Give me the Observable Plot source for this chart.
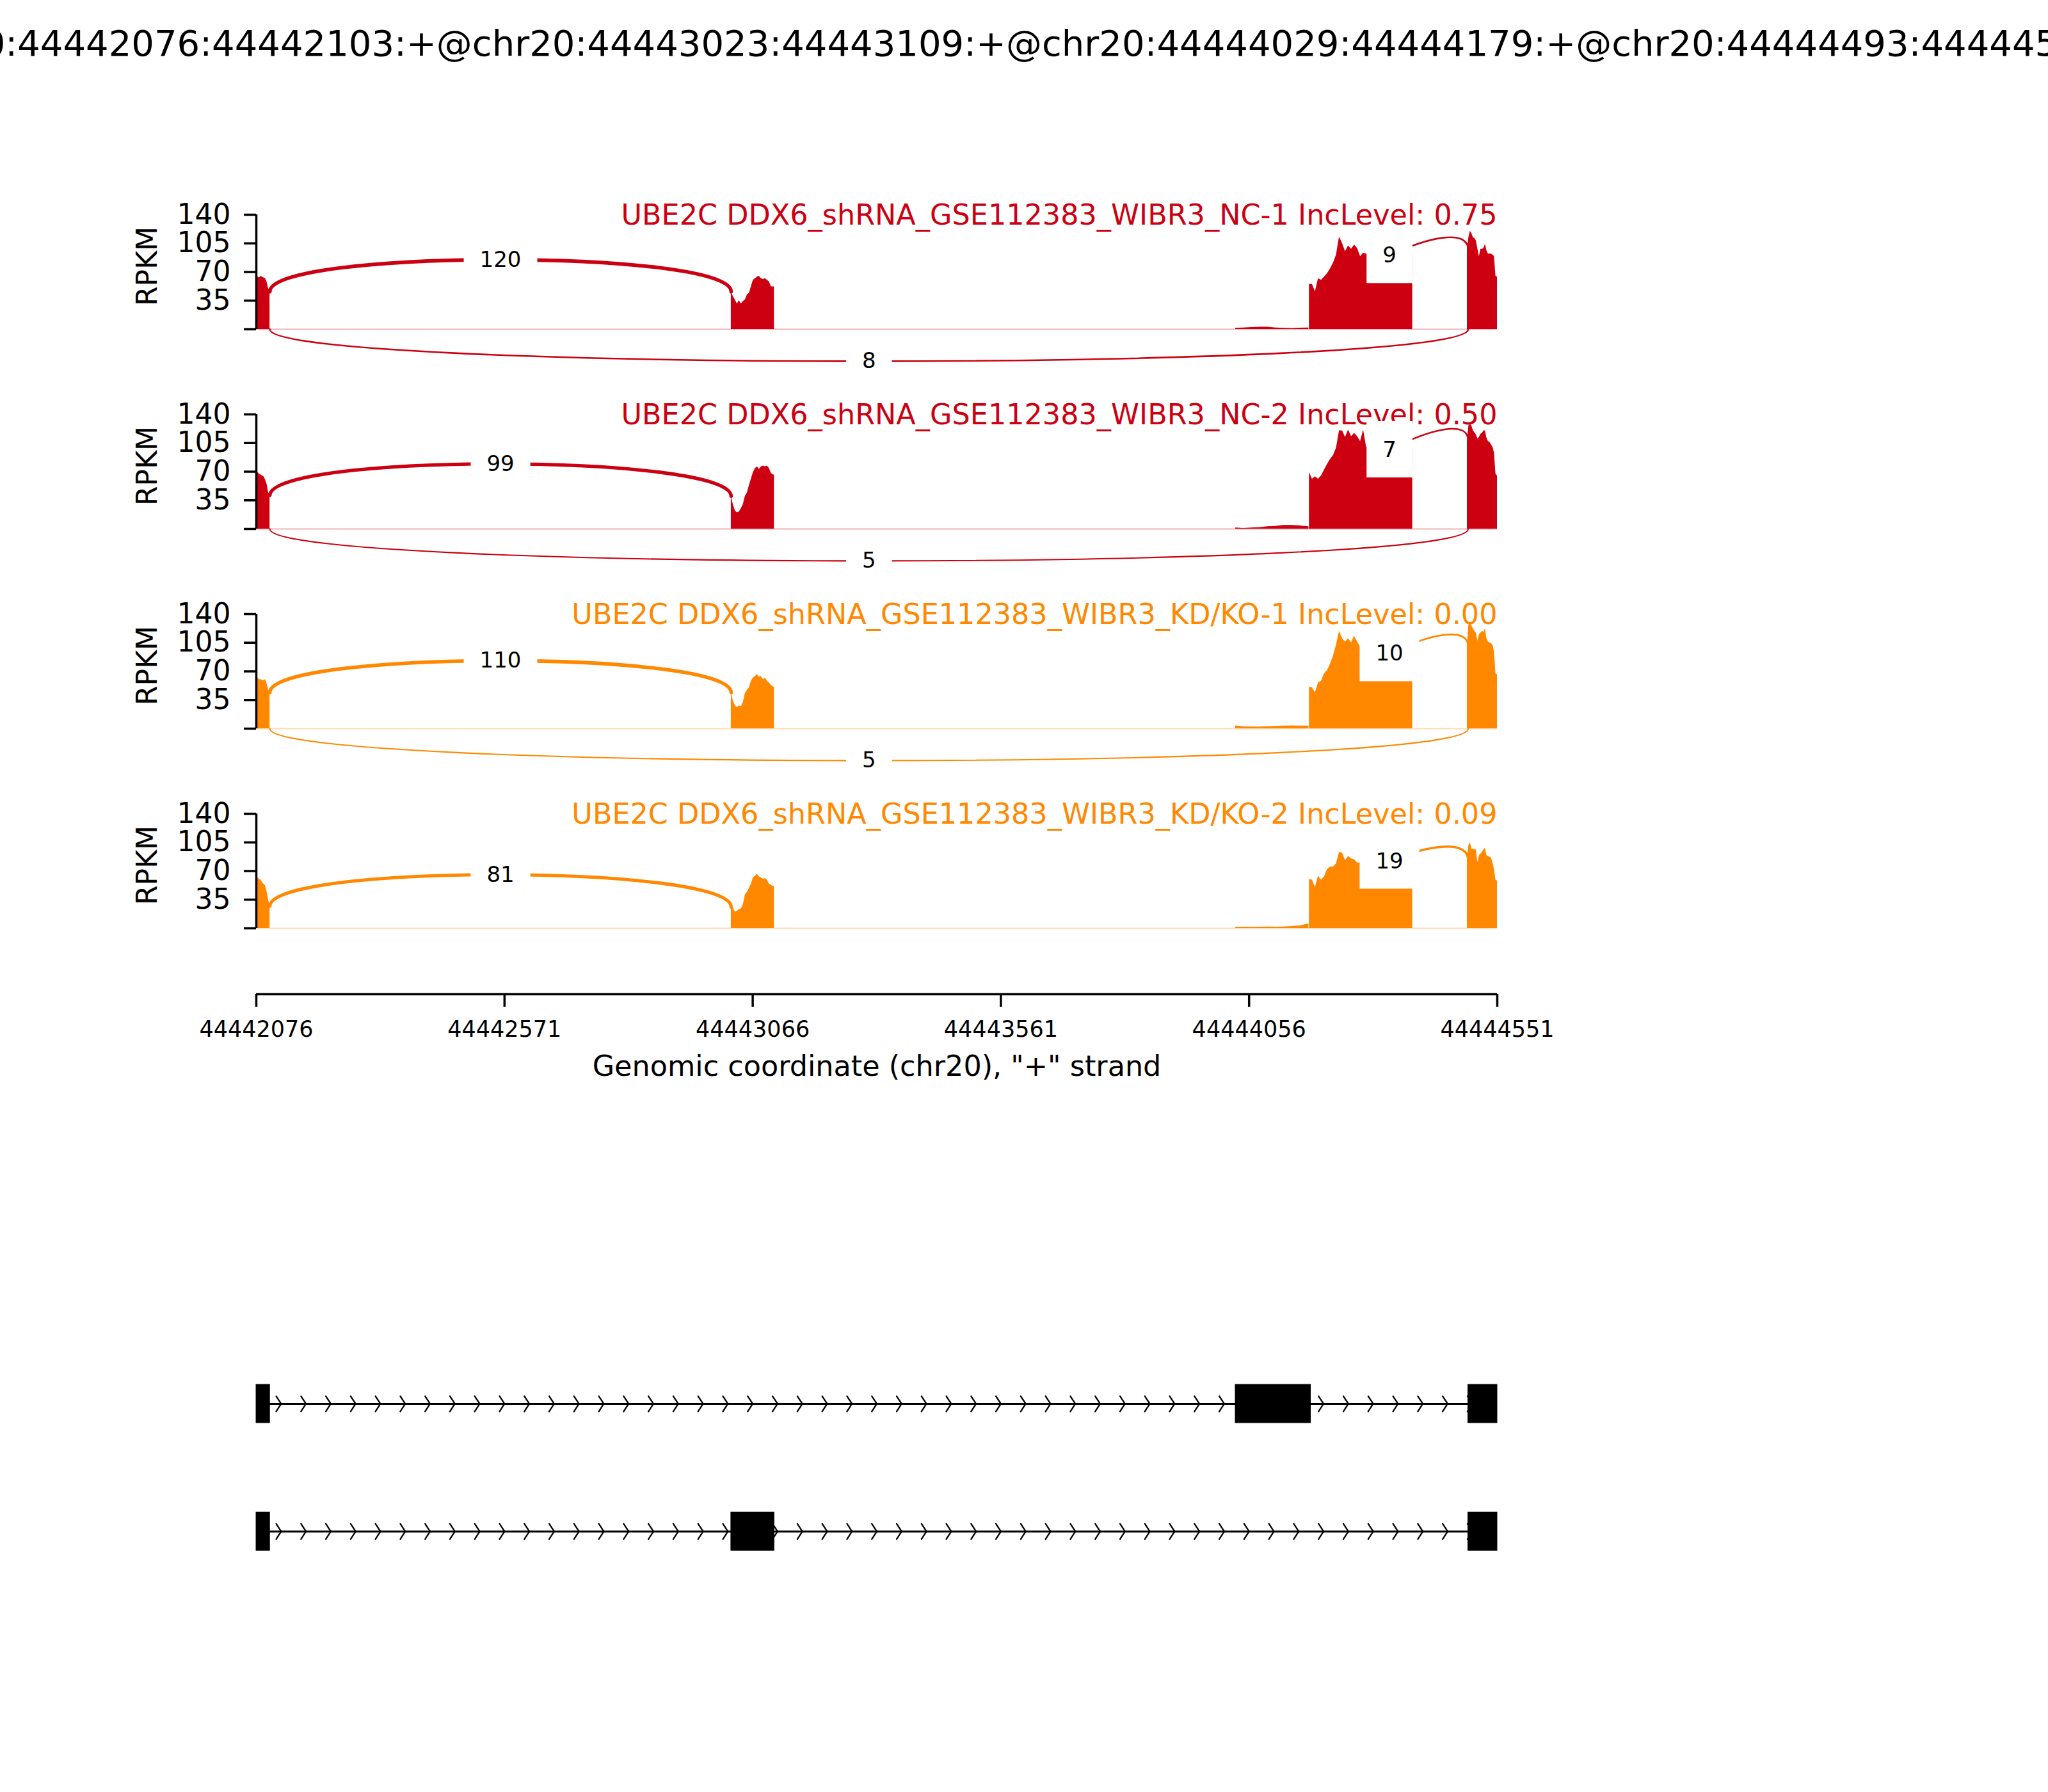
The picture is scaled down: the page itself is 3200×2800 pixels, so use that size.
<!DOCTYPE html>
<html>
<head>
<meta charset="utf-8">
<script src="https://cdn.jsdelivr.net/npm/d3@7"></script>
<script src="https://cdn.jsdelivr.net/npm/@observablehq/plot@0.6"></script>
<style>
  html, body { margin: 0; padding: 0; background: #fff; }
  #fig { position: relative; width: 3200px; height: 2800px; overflow: hidden; background: #fff; font-family: "DejaVu Sans", sans-serif; }
  #fig > svg { position: absolute; left: 0; overflow: visible; }
  #ttl { position: absolute; left: 1600px; transform: translateX(-50%); white-space: nowrap; font-size: 56px; line-height: 56px; font-family: "DejaVu Sans", sans-serif; color: #000; }
</style>
</head>
<body>
<div id="fig"></div>
<script>
// ---------------- DATA ----------------
const chrom = "chr20";
const txStart = 44442076;
const txEnd = 44444551;
// exons of the event: [start, end]
const exonStarts = [44442076, 44443023, 44444029, 44444493];
const exonEnds   = [44442103, 44443109, 44444179, 44444551];
// isoforms (indices into the exon lists), top to bottom
const isoformExons = [[0, 2, 3], [0, 1, 3]];

const xTicks = [44442076, 44442571, 44443066, 44443561, 44444056, 44444551];
const yTicks = [0, 35, 70, 105, 140];
const xLabel = 'Genomic coordinate (chr20), "+" strand';
const yLabel = "RPKM";

const sampleNames = [
  "UBE2C DDX6_shRNA_GSE112383_WIBR3_NC-1",
  "UBE2C DDX6_shRNA_GSE112383_WIBR3_NC-2",
  "UBE2C DDX6_shRNA_GSE112383_WIBR3_KD/KO-1",
  "UBE2C DDX6_shRNA_GSE112383_WIBR3_KD/KO-2"
];
const incLevels = ["0.75", "0.50", "0.00", "0.09"];

// coverage sample positions (bp offset from txStart) for each covered region
const covPosA = [0, 3, 6, 9, 12, 15, 18, 21, 24, 27];
const covPosB = [947, 951, 955, 959, 963, 967, 971, 975, 979, 983, 987, 991, 995, 999, 1003, 1007, 1011, 1015, 1019, 1023, 1027, 1031, 1033];
const covPosC = [1953, 1969, 1985, 2001, 2017, 2033, 2049, 2065, 2081, 2099];
const covPosD = [2100, 2106, 2112, 2118, 2124, 2130, 2136, 2142, 2148, 2154, 2160, 2166, 2172, 2178, 2184, 2190, 2196, 2202, 2208, 2214, 2220, 2226, 2232, 2238, 2244, 2250, 2256, 2262, 2268, 2274, 2280, 2286, 2292, 2298, 2304, 2306];
const covPosE = [2415, 2418, 2421, 2424, 2427, 2430, 2433, 2436, 2439, 2442, 2445, 2448, 2451, 2454, 2457, 2460, 2463, 2466, 2469, 2472, 2475];

// RPKM coverage, sample NC-1
const covNC1_A = [66, 64, 63, 65, 64, 63, 62, 58, 50, 46];
const covNC1_B = [46, 40, 36, 31, 35, 31, 34, 36, 42, 44, 52, 60, 62, 64, 65, 62, 61, 62, 60, 58, 52, 52, 52];
const covNC1_C = [1.3, 1.8, 2.3, 2.8, 2.8, 1.8, 1.3, 1.0, 1.5, 1.8];
const covNC1_D = [55, 55, 46, 62, 60, 64, 68, 74, 81, 91, 113, 105, 95, 102, 98, 103, 99, 89, 93, 92, 90, 88, 91, 89, 87, 90, 88, 91, 90, 92, 91, 90, 93, 92, 92, 92];
const covNC1_E = [97, 112, 120, 117, 112, 111, 108, 98, 89, 98, 98, 99, 104, 96, 92, 92, 92, 91, 89, 65, 64];
// sample NC-2
const covNC2_A = [70, 69, 67, 66, 65, 64, 60, 55, 45, 40];
const covNC2_B = [40, 30, 22, 20, 21, 25, 30, 40, 44, 53, 61, 69, 74, 76, 73, 76, 77, 76, 77, 74, 68, 66, 66];
const covNC2_C = [1.3, 0.8, 1.3, 1.8, 2.9, 3.4, 4.5, 4.5, 3.9, 2.9];
const covNC2_D = [69, 61, 64, 61, 65, 72, 79, 85, 90, 99, 120, 120, 112, 121, 113, 117, 113, 107, 121, 100, 98, 101, 99, 100, 97, 99, 100, 98, 101, 99, 98, 100, 99, 100, 99, 99];
const covNC2_E = [107, 126, 128, 126, 120, 118, 115, 110, 112, 116, 117, 120, 120, 111, 107, 106, 103, 100, 93, 67, 65];
// sample KD/KO-1
const covKD1_A = [63, 62, 60, 60, 59, 59, 60, 55, 48, 44];
const covKD1_B = [44, 34, 28, 26, 28, 27, 32, 43, 47, 50, 58, 62, 64, 66, 63, 64, 60, 62, 58, 56, 53, 51, 51];
const covKD1_C = [3.6, 2.3, 2.1, 2.1, 2.6, 2.9, 3.4, 3.6, 3.4, 3.4];
const covKD1_D = [51, 50, 44, 56, 58, 67, 71, 79, 89, 102, 119, 110, 106, 110, 105, 113, 106, 100, 98, 97, 99, 96, 98, 97, 99, 98, 96, 97, 98, 99, 97, 98, 96, 97, 97, 97];
const covKD1_E = [100, 127, 128, 126, 122, 119, 117, 107, 115, 117, 119, 118, 122, 110, 106, 105, 104, 102, 94, 67, 66];
// sample KD/KO-2
const covKD2_A = [63, 62, 60, 59, 56, 54, 52, 45, 35, 27];
const covKD2_B = [27, 25, 20, 21, 23, 24, 29, 41, 44, 49, 54, 62, 64, 66, 63, 62, 60, 61, 59, 54, 53, 51, 51];
const covKD2_C = [1.3, 1.5, 1.3, 1.5, 1.8, 1.5, 1.8, 2.3, 3.1, 5.7];
const covKD2_D = [60, 59, 50, 64, 59, 63, 72, 75, 75, 79, 93, 92, 83, 88, 85, 84, 80, 80, 79, 80, 78, 81, 79, 80, 78, 79, 80, 81, 79, 78, 80, 79, 80, 79, 79, 79];
const covKD2_E = [83, 101, 105, 97, 97, 96, 96, 80, 89, 91, 93, 96, 98, 89, 88, 87, 86, 80, 72, 59, 58];

// splice junctions
const juncStart = [44442103, 44444179, 44442103];
const juncEnd   = [44443023, 44444493, 44444493];
const juncAbove = [true, true, false];
const juncCountsNC1 = [120, 9, 8];
const juncCountsNC2 = [99, 7, 5];
const juncCountsKD1 = [110, 10, 5];
const juncCountsKD2 = [81, 19, null];
// coverage at the two splice sites of each upper arc [left, right]
const juncDensNC1 = [[46, 46], [5, 97], null];
const juncDensNC2 = [[41, 40], [7, 108], null];
const juncDensKD1 = [[44, 44], [5, 100], null];
const juncDensKD2 = [[27, 26], [3, 83], null];

// ---------------- STYLE / LAYOUT ----------------
const W = 3200;
const plotLeft = 400, plotRight = 2339;
const mL = plotLeft, mR = W - plotRight;
const sampleColors = ["#CC0011", "#CC0011", "#FF8800", "#FF8800"];
const font = "DejaVu Sans";
const arcH = 52;                 // arc control height, RPKM units
const panelTop0 = 334.5, panelStep = 312.1, panelFrame = 179, panelMT = 80, panelMB = 90;

const samples = [
  {cov: [covNC1_A, covNC1_B, covNC1_C, covNC1_D, covNC1_E], counts: juncCountsNC1, dens: juncDensNC1},
  {cov: [covNC2_A, covNC2_B, covNC2_C, covNC2_D, covNC2_E], counts: juncCountsNC2, dens: juncDensNC2},
  {cov: [covKD1_A, covKD1_B, covKD1_C, covKD1_D, covKD1_E], counts: juncCountsKD1, dens: juncDensKD1},
  {cov: [covKD2_A, covKD2_B, covKD2_C, covKD2_D, covKD2_E], counts: juncCountsKD2, dens: juncDensKD2}
];
const covPos = [covPosA, covPosB, covPosC, covPosD, covPosE];

// custom cubic Bezier curve: 4 points -> one cubic segment
function bezierCurve(context) {
  let pts = [];
  return {
    areaStart() {}, areaEnd() {},
    lineStart() { pts = []; },
    lineEnd() {
      if (pts.length === 4) {
        context.moveTo(pts[0][0], pts[0][1]);
        context.bezierCurveTo(pts[1][0], pts[1][1], pts[2][0], pts[2][1], pts[3][0], pts[3][1]);
      }
    },
    point(x, y) { pts.push([+x, +y]); }
  };
}

const fig = document.getElementById("fig");

// Event title
const ttl = document.createElement("div");
ttl.id = "ttl";
ttl.textContent = exonStarts.map((s, i) => `${chrom}:${s}:${exonEnds[i]}:+`).join("@");
ttl.style.top = "40px";
fig.appendChild(ttl);

// ---------------- PANELS ----------------
samples.forEach((s, i) => {
  const color = sampleColors[i];
  const covRows = covPos.flatMap((offs, r) => offs.map((o, k) => ({pos: txStart + o, value: s.cov[r][k], region: r})));
  const arcMarks = [];
  const labels = [];
  juncStart.forEach((js, j) => {
    const n = s.counts[j];
    if (n == null) return;
    const x1 = js, x2 = juncEnd[j];
    let pts, ly;
    if (juncAbove[j]) {
      const [L, R] = s.dens[j];
      pts = [{x: x1, y: L}, {x: x1, y: L + arcH}, {x: x2, y: R + arcH}, {x: x2, y: R}];
      ly = (L + R) / 2 + 0.75 * arcH;
    } else {
      pts = [{x: x1, y: 0}, {x: x1, y: -arcH}, {x: x2, y: -arcH}, {x: x2, y: 0}];
      ly = -0.75 * arcH;
    }
    arcMarks.push(Plot.line(pts, {x: "x", y: "y", stroke: color, strokeWidth: 2.7 * Math.log10(n + 1), curve: bezierCurve}));
    labels.push({x: (x1 + x2) / 2, y: ly, text: String(n)});
  });

  const svg = Plot.plot({
    width: W,
    height: panelMT + panelFrame + panelMB,
    marginLeft: mL, marginRight: mR, marginTop: panelMT, marginBottom: panelMB,
    x: {domain: [txStart, txEnd], axis: null},
    y: {domain: [0, 140]},
    style: {fontFamily: font, background: "transparent", overflow: "visible", color: "black"},
    marks: [
      Plot.ruleY([0], {x1: txStart, x2: txEnd, stroke: color, strokeOpacity: 0.3, strokeWidth: 2}),
      Plot.areaY(covRows, {x: "pos", y1: 0, y2: "value", z: "region", fill: color, curve: "linear"}),
      ...arcMarks,
      Plot.ruleX([txStart], {y1: 0, y2: 140, strokeWidth: 3.5}),
      Plot.axisY({ticks: yTicks, tickFormat: d => d === 0 ? "" : String(d), tickSize: 19, tickPadding: 21, fontSize: 44, strokeWidth: 3.5, label: null}),
      Plot.text([yLabel], {text: d => d, frameAnchor: "left", textAnchor: "middle", lineAnchor: "middle", rotate: -90, dx: -170, dy: -9, fontSize: 44}),
      Plot.text([`${sampleNames[i]} IncLevel: ${incLevels[i]}`], {text: d => d, frameAnchor: "top-right", textAnchor: "end", lineAnchor: "bottom", dy: 15, fontSize: 44.5, fill: color}),
      Plot.text(labels, {x: "x", y: "y", text: "text", fontSize: 34, fill: "black", className: "jlabel"})
    ]
  });
  svg.style.top = (panelTop0 + panelStep * i - panelMT) + "px";
  fig.appendChild(svg);
});

// ---------------- X AXIS ----------------
{
  const mT = 10, frameH = 20, mB = 170;
  const svg = Plot.plot({
    width: W, height: mT + frameH + mB,
    marginLeft: mL, marginRight: mR, marginTop: mT, marginBottom: mB,
    x: {domain: [txStart, txEnd]},
    y: {domain: [0, 1], axis: null},
    style: {fontFamily: font, background: "transparent", overflow: "visible", color: "black"},
    marks: [
      Plot.ruleY([0], {x1: txStart, x2: txEnd, strokeWidth: 3.5}),
      Plot.axisX({ticks: xTicks, tickFormat: d => String(d), tickSize: 20, tickPadding: 22, fontSize: 35, strokeWidth: 3.5, label: null}),
      Plot.text([xLabel], {text: d => d, frameAnchor: "bottom", lineAnchor: "bottom", dy: 127, fontSize: 44.5})
    ]
  });
  svg.style.top = (1553 - (mT + frameH)) + "px";
  fig.appendChild(svg);
}

// ---------------- GENE MODEL ----------------
{
  const mT = 100, mB = 100, frameH = 199.4;
  const exonRows = isoformExons.flatMap((ids, row) => ids.map(e => ({start: exonStarts[e], end: exonEnds[e], row})));
  const step = (txEnd - txStart) / 50;
  const spread = 0.2 * step;
  const chevrons = [];
  isoformExons.forEach((_, row) => {
    d3.range(1, 50).forEach(k => {
      const loc = txStart + k * step;
      const id = row + "-" + k;
      chevrons.push({x: loc - spread, y: row - 0.06, id}, {x: loc, y: row, id}, {x: loc - spread, y: row + 0.06, id});
    });
  });
  const svg = Plot.plot({
    width: W, height: mT + frameH + mB,
    marginLeft: mL, marginRight: mR, marginTop: mT, marginBottom: mB,
    x: {domain: [txStart, txEnd], axis: null},
    y: {domain: [0, 1], reverse: true, axis: null},
    style: {fontFamily: font, background: "transparent", overflow: "visible", color: "black"},
    marks: [
      Plot.ruleY(isoformExons.map((_, row) => row), {y: d => d, x1: txStart, x2: txEnd, strokeWidth: 3}),
      Plot.line(chevrons, {x: "x", y: "y", z: "id", stroke: "black", strokeWidth: 2.3}),
      Plot.rect(exonRows, {x1: "start", x2: "end", y1: d => d.row - 0.15, y2: d => d.row + 0.15, fill: "black", stroke: "black", strokeWidth: 1})
    ]
  });
  svg.style.top = (2193.3 - mT) + "px";
  fig.appendChild(svg);
}

// white boxes behind junction counts (like matplotlib's backgroundcolor)
const padX = 25, padY = 24;
document.querySelectorAll("g.jlabel text").forEach(t => {
  const bb = t.getBBox();
  const r = document.createElementNS("http://www.w3.org/2000/svg", "rect");
  r.setAttribute("x", bb.x - padX);
  r.setAttribute("y", bb.y - padY);
  r.setAttribute("width", bb.width + 2 * padX);
  r.setAttribute("height", bb.height + 2 * padY);
  r.setAttribute("fill", "white");
  r.setAttribute("stroke", "none");
  const tr = t.getAttribute("transform");
  if (tr) r.setAttribute("transform", tr);
  t.parentNode.insertBefore(r, t);
});
</script>
</body>
</html>
